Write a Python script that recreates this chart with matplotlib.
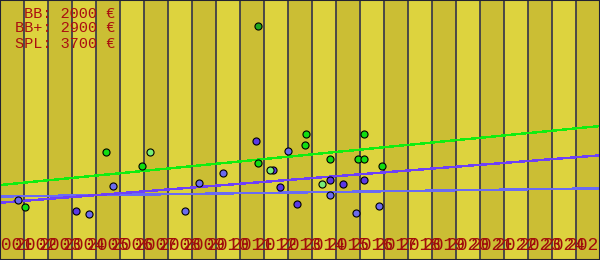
import matplotlib
matplotlib.use("Agg")
import matplotlib.pyplot as plt

# === Données (années fractionnaires, salaires en €) ===
years = list(range(2001, 2026))

bb_x = [2001.26, 2004.22, 2005.22, 2008.22, 2008.80, 2009.80, 2012.51, 2014.26, 2015.35, 2016.30]
bb_y = [1673, 1291, 2055, 1373, 2137, 2410, 3010, 1809, 1326, 1509]

bbp_x = [2003.68, 2011.18, 2011.89, 2012.18, 2012.89, 2014.26, 2014.80, 2015.68]
bbp_y = [1373, 3283, 2492, 2028, 1564, 2219, 2118, 2219]

spl_x = [2001.55, 2004.93, 2006.43, 2011.26, 2013.22, 2013.26, 2014.26, 2015.43, 2015.68, 2015.68, 2016.43]
spl_y = [1482, 2983, 2601, 2683, 3174, 3474, 2792, 2792, 2792, 3474, 2601]

light_x = [2006.76, 2011.76, 2013.93]
light_y = [2983, 2492, 2118]

outlier_x = [2011.25]
outlier_y = [6430]

# tendances (début / fin de l'axe)
trend_x = [2000.5, 2025.5]
bb_trend = [1777, 2000]
bbp_trend = [1607, 2900]
spl_trend = [2090, 3700]

labels = ["BB: 2000 €", "BB+: 2900 €", "SPL: 3700 €"]

# === Figure ===
fig = plt.figure(figsize=(6, 2.6), dpi=100)
ax = fig.add_axes([0, 0, 1, 1])
ax.set_xlim(2000.5, 2025.5)
ax.set_ylim(44, 7139)

for i, yr in enumerate(years):
    ax.axvspan(yr - 0.5, yr + 0.5, color="#cbbe34" if i % 2 == 0 else "#ddd33e", lw=0, zorder=0)
for yr in years[:-1]:
    ax.axvline(yr + 0.5, color="#33334a", lw=1.2, zorder=1)

ax.plot(trend_x, bb_trend, color="#6a6af5", lw=1, antialiased=False, zorder=2)
ax.plot(trend_x, bbp_trend, color="#6e40f8", lw=1, antialiased=False, zorder=2)
ax.plot(trend_x, spl_trend, color="#11ee11", lw=1, antialiased=False, zorder=2)

kw = dict(s=26, edgecolors="black", linewidths=0.8, zorder=3)
ax.scatter(bb_x, bb_y, c="#6b6bee", **kw)
ax.scatter(bbp_x, bbp_y, c="#5a38e6", **kw)
ax.scatter(spl_x, spl_y, c="#11dd11", **kw)
ax.scatter(light_x, light_y, c="#77ee77", **kw)
ax.scatter(outlier_x, outlier_y, c="#1ea81e", **kw)

ax.set_xticks(years)
ax.set_xticklabels([str(y) for y in years], family="Liberation Mono", fontsize=13, color="#a00c0c")
ax.tick_params(axis="x", length=0, pad=-16.5)
ax.set_yticks([])
for s in ax.spines.values():
    s.set_color("#222233")
    s.set_linewidth(1.5)

for i, t in enumerate(labels):
    fig.text(115 / 600, 1 - (17.5 + 15 * i) / 260, t, ha="right", va="baseline",
             family="Liberation Mono", fontsize=11, color="#aa1010")

fig.savefig("out.png", dpi=100)
